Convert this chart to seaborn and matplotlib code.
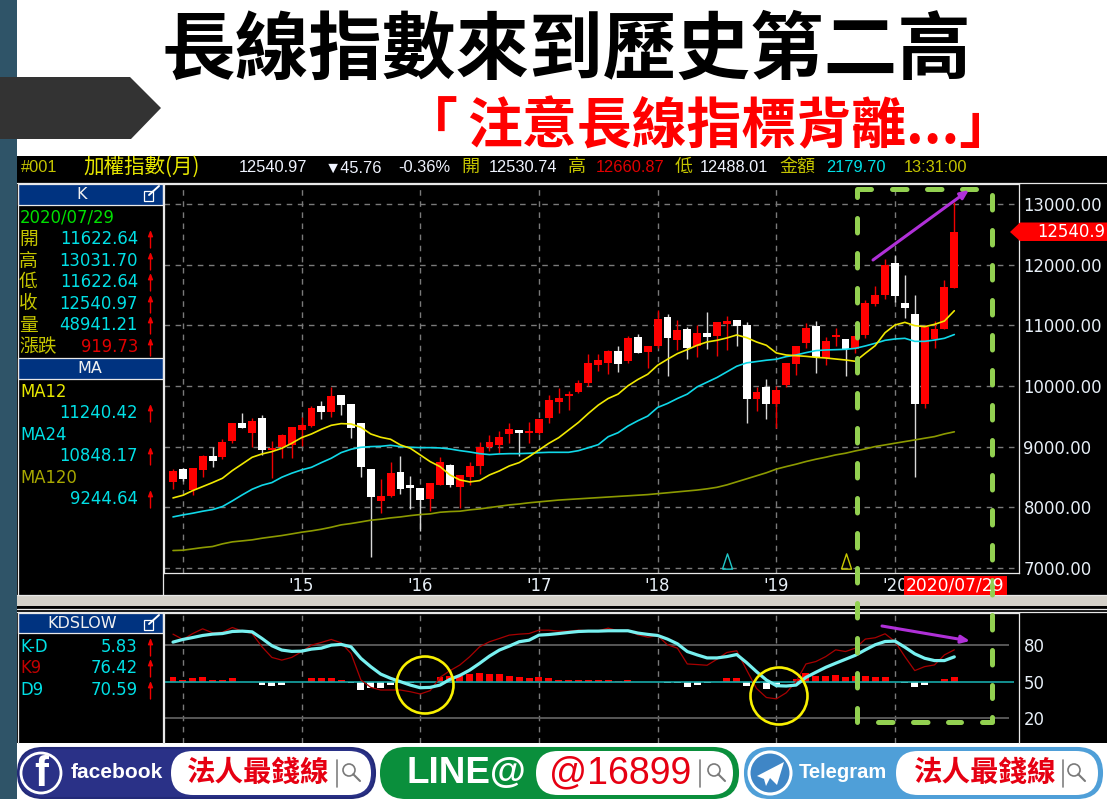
import numpy as np
import pandas as pd
import seaborn as sns
import matplotlib
matplotlib.use("Agg")
import matplotlib.pyplot as plt
from matplotlib.patches import FancyBboxPatch, Polygon, Rectangle, Circle

# ---------- data ----------
months = pd.period_range("2013-12", periods=80, freq="M")
opens = [8413,8627,8287,8617,8853,8836,9100,9385,9220,9473,8946,8990,9028,9275,9347,9676,9572,9852,9698,9385,
         8627,8100,8188,8584,8364,8315,8144,8369,8693,8342,8496,8682,8990,9028,9214,9274,9230,9230,9477,9740,
         9838,9899,10052,10342,10386,10584,10408,10808,10562,10655,11137,10764,10940,10655,10874,10830,11027,11093,11005,9783,
         9986,9696,10017,10369,10704,10995,10467,10813,10769,10605,10835,11346,11500,12027,11362,11181,9704,10769,10945,11622.64]
highs = [8627,8649,8649,8858,9001,9122,9385,9561,9467,9517,9089,9209,9319,9495,9671,9758,9984,9852,9698,9385,
         8627,8474,8743,8853,8523,8315,8408,8825,8715,8540,8748,9078,9187,9264,9383,9274,9405,9449,9849,9964,
         9915,10096,10523,10523,10600,10655,10830,10852,10655,11258,11181,11093,10973,11005,11225,11049,11159,11093,11049,9986,
         10123,10003,10385,10654,11044,11077,10802,10956,10769,10830,11417,11648,12098,12164,11829,11500,11000,11077,11747,13031.70]
lows = [8304,8430,8210,8507,8660,8792,9056,9303,8990,8869,8479,8814,8814,9012,9330,9462,9484,9528,9149,8507,
        7189,7903,8177,8216,7974,7617,7947,8369,8342,7996,8375,8551,8924,8902,9055,8852,9055,9208,9383,9548,
        9603,9877,10003,10255,10205,10233,10386,10540,10299,10633,10167,10600,10452,10479,10605,10496,10589,10655,9394,9592,
        9460,9301,9979,10187,10621,10220,10347,10660,10171,10539,10797,11324,11439,11384,11126,8508,9639,10632,10945,11622.64]
closes = [8606,8463,8649,8847,8770,9078,9385,9303,9429,8946,8984,9187,9319,9363,9632,9566,9835,9682,9303,8660,
          8166,8188,8562,8304,8326,8122,8408,8743,8364,8540,8682,8990,9078,9155,9296,9230,9252,9449,9762,9805,
          9871,10052,10386,10430,10584,10364,10786,10540,10655,11099,10786,10918,10633,10874,10808,11049,11071,10989,9789,9899,
          9696,9942,10385,10654,10962,10478,10742,10841,10605,10830,11362,11494,11988,11483,11280,9704,10978,10940,11626,12540.97]
ma12 = [8155,8199,8276,8342,8408,8479,8606,8715,8825,8880,8918,8973,9056,9149,9209,9286,9352,9380,9374,9319,
        9209,9155,9122,9028,8973,8864,8754,8671,8534,8452,8419,8441,8534,8600,8682,8737,8835,8945,9055,9148,
        9274,9400,9548,9685,9794,9866,10003,10107,10194,10342,10441,10534,10600,10671,10726,10753,10792,10841,10797,10726,
        10671,10545,10511,10500,10489,10473,10462,10445,10429,10407,10539,10665,10879,11005,11049,10995,10978,11016,11071,11240.42]
ma24 = [7842,7875,7903,7936,7963,8013,8106,8205,8298,8364,8408,8496,8562,8617,8660,8737,8809,8902,8957,8990,
        9001,9006,9023,9001,8990,8984,8984,8979,8962,8935,8913,8885,8869,8880,8885,8885,8891,8901,8907,8907,
        8907,8934,8983,9033,9164,9230,9340,9427,9504,9646,9712,9794,9866,9986,10063,10140,10233,10326,10381,10403,
        10425,10441,10484,10511,10550,10583,10594,10599,10605,10621,10660,10704,10753,10775,10786,10736,10736,10758,10786,10848.17]
ma120 = [7288,7293,7315,7337,7354,7398,7431,7447,7464,7491,7513,7535,7562,7590,7612,7639,7672,7711,7733,7760,
         7788,7804,7826,7842,7864,7881,7892,7919,7930,7936,7958,7974,7996,8018,8040,8055,8075,8090,8105,8120,
         8130,8140,8150,8160,8170,8180,8190,8200,8210,8225,8240,8255,8270,8285,8305,8330,8370,8420,8470,8520,
         8570,8630,8672,8711,8755,8793,8826,8864,8892,8930,8963,9002,9029,9057,9084,9111,9139,9166,9210,9244.64]
k9 = [89.4,85.0,89.9,93.8,90.5,91.0,94.9,91.9,89.9,78.9,70.1,67.9,70.1,74.8,80.3,82.5,85.0,82.2,73.4,51.4,
      45.3,43.1,43.1,43.1,41.7,39.8,42.6,53.6,59.1,63.8,70.7,78.9,83.1,85.8,88.6,89.4,89.9,92.7,92.7,91.9,
      91.9,92.7,92.1,92.1,94.4,92.2,92.2,88.9,86.9,88.1,80.6,77.8,64.7,64.2,63.6,68.6,74.2,75.6,59.7,44.4,
      36.9,35.8,40.8,50.0,64.7,66.7,70.8,76.4,75.0,77.8,85.3,86.4,89.7,83.3,70.8,59.2,62.5,63.9,72.2,76.42]
d9 = [82.8,85.0,86.6,88.3,89.4,89.9,91.6,91.9,91.3,85.8,79.8,76.2,75.1,75.3,77.0,77.8,80.3,80.9,78.9,69.3,
      62.4,56.3,52.8,50.0,47.2,45.0,45.3,47.2,51.9,55.2,59.6,65.2,71.2,76.2,79.5,83.1,84.4,88.6,89.1,89.9,
      90.8,91.6,91.9,91.9,92.2,92.2,92.2,90.3,89.2,88.3,85.3,81.4,75.0,72.2,69.7,69.7,70.8,72.5,65.8,58.3,
      51.4,46.7,46.4,47.2,53.6,57.8,61.9,65.3,68.6,71.9,76.4,80.6,83.3,83.6,78.6,73.1,69.4,67.5,67.5,70.59]
kd_diff = [5.8,2.1,4.2,5.8,2.1,2.1,4.2,0.2,0.2,-4.2,-5.8,-3.8,-0.8,0.2,4.2,4.2,4.2,2.1,-2.1,-10.8,
           -8.3,-7.5,-3.8,-2.1,-1.3,-0.8,-0.2,5.8,7.5,7.5,9.2,10.8,9.2,9.2,7.5,5.8,4.2,5.8,4.2,2.1,
           2.1,2.1,2.1,2.1,2.1,0.4,2.1,-0.8,-0.8,0.2,-2.1,-2.1,-7.1,-3.8,-2.1,0.2,4.2,4.2,-5.4,-2.1,
           -8.8,-3.8,-0.8,3.8,10.4,7.1,7.1,8.8,5.4,7.1,7.1,5.4,5.4,0.2,-2.1,-7.1,-3.8,-0.4,3.8,5.83]
price_ticks = [7000,8000,9000,10000,11000,12000,13000]
kd_ticks = [20,50,80]
signal_points = [("2018-08", 7115, "#20c8c8"), ("2019-08", 7115, "#c8c800")]

kline_rows = [("開","11622.64"),("高","13031.70"),("低","11622.64"),("收","12540.97"),("量","48941.21"),("漲跌","919.73")]
ma_rows = [("MA12","11240.42"),("MA24","10848.17"),("MA120","9244.64")]
kd_rows = [("K-D","5.83"),("K9","76.42"),("D9","70.59")]

# ---------- setup ----------
sns.set_style("dark")
plt.rcParams["font.family"] = ["DejaVu Sans", "Noto Sans CJK TC"]
W, H = 1107, 799
CJK = ["Noto Sans CJK TC", "DejaVu Sans"]
OLIVE, CYAN, RED = "#c4c400", "#00e0e6", "#ff0000"
idx = np.arange(len(opens))
fig = plt.figure(figsize=(W/100, H/100), dpi=100, facecolor="white")

def axes_px(l, t, r, b, **kw):
    return fig.add_axes([l/W, 1-b/H, (r-l)/W, (b-t)/H], **kw)

def sheet(z):
    a = fig.add_axes([0, 0, 1, 1], zorder=z)
    a.set_xlim(0, W); a.set_ylim(H, 0); a.axis("off"); a.patch.set_alpha(0)
    return a

bg = sheet(0)
ov = sheet(10)

# ---------- background ----------
bg.add_patch(Rectangle((0, 0), 17, H, color="#2f5468", lw=0))
bg.add_patch(Rectangle((17, 156), W-17, 587, color="black", lw=0))
bg.add_patch(Rectangle((17, 596), W-17, 9.5, color="#d4d0c8", lw=0))
for y in (182.5, 595, 608.5, 612):
    bg.plot([17, W], [y, y], color="#e8e8e8", lw=0.9)
bg.add_patch(Polygon([(0, 77), (130, 77), (161, 108), (131, 139), (0, 139)], color="#333333", lw=0))

# title
ov.text(566, 52, "長線指數來到歷史第二高", ha="center", va="center", fontsize=53,
        family=CJK, fontweight="bold", color="black")
ov.text(403, 127, "「", ha="left", va="center", fontsize=39.5, family=CJK, fontweight="bold", color="#ff0000")
ov.text(467, 127, "注意長線指標背離...」", ha="left", va="center", fontsize=39.5,
        family=CJK, fontweight="bold", color="#ff0000")

# header strip
HF = ["Liberation Sans", "DejaVu Sans", "Noto Sans CJK TC"]
header = [(21, "#001", OLIVE), (239, "12540.97", "#f0f4ff"), (325, "▼45.76", "#f0f4ff"), (398, "-0.36%", "#f0f4ff"),
          (489, "12530.74", "#f0f4ff"), (596, "12660.87", "#e00000"), (700, "12488.01", "#f0f4ff"),
          (826, "2179.70", CYAN), (904, "13:31:00", OLIVE)]
for x, s, c in header:
    bg.text(x, 168, s, color=c, fontsize=11.8, family=HF, va="center", ha="left")
for x, s, c in [(83, "加權指數(月)", "#e8e800"), (461, "開", OLIVE), (568, "高", OLIVE), (675, "低", OLIVE), (779, "金額", OLIVE)]:
    bg.text(x, 167, s, color=c, fontsize=14.8 if len(s) > 3 else 13, family=CJK, va="center", ha="left")

# left panels
def blue_bar(top, bottom, label, icon=False):
    bg.add_patch(Rectangle((18, top), 145, bottom-top, facecolor="#003380", edgecolor="#e8e8e8", lw=0.9))
    bg.text(82 if icon else 90, (top+bottom)/2, label, color="#f0f0f0", fontsize=11.5, ha="center", va="center")
    if icon:
        bg.add_patch(Rectangle((144, top+7), 9, 10, facecolor="none", edgecolor="white", lw=0.9))
        bg.plot([149, 159], [top+11, top+2], color="white", lw=1.4)

def up_arrow(y):
    bg.annotate("", xy=(150.5, y-9), xytext=(150.5, y+9),
                arrowprops=dict(arrowstyle="-|>,head_width=0.14,head_length=0.35", color="#f00000", lw=1.0, shrinkA=0, shrinkB=0))

blue_bar(184, 204.5, "K", icon=True)
bg.text(20, 217, "2020/07/29", color="#00e000", fontsize=11.9, va="center", ha="left")
for y, (lab, val) in zip([239, 261, 282, 304, 325, 347], kline_rows):
    bg.text(19, y, lab, color=OLIVE, fontsize=13.5, family=CJK, va="center", ha="left")
    bg.text(138, y, val, color="#e00000" if lab == "漲跌" else CYAN, fontsize=11.9, va="center", ha="right")
    up_arrow(y)
blue_bar(358, 378.5, "MA")
for (y1, y2), (lab, val), c in zip([(392, 413), (435, 456), (478, 499)], ma_rows, ["#e8e800", CYAN, "#a8a800"]):
    bg.text(20, y1, lab, color=c, fontsize=11.9, va="center", ha="left")
    bg.text(138, y2, val, color=CYAN, fontsize=11.9, va="center", ha="right")
    up_arrow(y2)
blue_bar(613, 633, "KDSLOW", icon=True)
for y, (lab, val), c in zip([647, 668, 690], kd_rows, [CYAN, "#c00000", CYAN]):
    bg.text(20, y, lab, color=c, fontsize=11.9, va="center", ha="left")
    bg.text(138, y, val, color=CYAN, fontsize=11.9, va="center", ha="right")
    up_arrow(y)
for x in (18, 163):
    bg.plot([x, x], [183, 595], color="#e8e8e8", lw=0.9)
    bg.plot([x, x], [612, 743], color="#e8e8e8", lw=0.9)

# ---------- price pane ----------
XL = ((164-173)/9.89, (1019-173)/9.89)
jan = [i for i, m in enumerate(months) if m.month == 1]
ax = axes_px(164, 184, 1019, 573, zorder=2)
ax.set_facecolor("black")
ax.grid(False)
for y in price_ticks:
    ax.axhline(y, color="#7a7a7a", lw=1.0, ls=(0, (4, 4)), zorder=1)
for i in jan:
    ax.axvline(i, color="#7a7a7a", lw=1.0, ls=(0, (4, 4)), zorder=1)
up = np.array(closes) >= np.array(opens)
ccol = np.where(up, "#ff0000", "#ffffff")
wcol = np.where(up, "#f00000", "#d8d8d8")
ax.vlines(idx, lows, highs, colors=wcol, lw=1.0, zorder=3)
ax.bar(idx, np.abs(np.array(closes)-np.array(opens)), bottom=np.minimum(opens, closes), width=0.8, color=ccol, lw=0, zorder=4)
for series, col in [(ma120, "#8c9a00"), (ma24, "#10d8e8"), (ma12, "#f0e800")]:
    sns.lineplot(x=idx, y=series, ax=ax, color=col, lw=1.2, errorbar=None, legend=False, zorder=5)
TRI = [(-0.33, -0.5), (0.33, -0.5), (0, 0.5), (-0.33, -0.5)]
for month, val, col in signal_points:
    ax.plot([months.get_loc(pd.Period(month, "M"))], [val], marker=TRI, ms=11, mfc="none", mec=col, mew=1.0,
            ls="none", zorder=5)
ax.set(xlabel="", ylabel="")
ax.set_xlim(*XL)
ax.set_ylim(7000-5/60.67*1000, 13000+20/60.67*1000)
ax.yaxis.tick_right()
ax.set_yticks(price_ticks)
ax.set_yticklabels([f"{v:.2f}" for v in price_ticks], color="#e8f0f8", fontsize=11.9)
ax.set_xticks(jan)
ax.set_xticklabels([f"'{str(months[i].year)[2:]}" if months[i].year >= 2015 else "" for i in jan],
                   color="#e8f0f8", fontsize=11.9)
ax.tick_params(axis="both", length=0, pad=3.2)
for s in ax.spines.values():
    s.set_visible(True); s.set_color("#e8e8e8"); s.set_linewidth(0.9)

# ---------- KD pane ----------
PX_KD, PX_BAR = 1.207, 0.8
ax_h = axes_px(164, 613, 1019, 743, zorder=2)
ax_h.set_facecolor("black"); ax_h.grid(False)
for i in jan:
    ax_h.axvline(i, color="#7a7a7a", lw=1.0, ls=(0, (4, 4)), zorder=0)
df = pd.DataFrame({"x": idx, "diff": kd_diff})
df["sign"] = np.where(df["diff"] >= 0, "up", "down")
sns.barplot(data=df, x="x", y="diff", hue="sign", palette={"up": "#ff0000", "down": "#ffffff"}, native_scale=True,
            width=0.7, dodge=False, legend=False, saturation=1, ax=ax_h, linewidth=0, zorder=2)
ax_h.set(xlabel="", ylabel="")
ax_h.set_xlim(*XL)
ax_h.set_ylim(-(743-681.7)/PX_BAR, (681.7-613)/PX_BAR)
ax_h.set_xticks([]); ax_h.set_yticks([])
for s in ax_h.spines.values():
    s.set_visible(False)

ax_k = axes_px(164, 613, 1019, 743, zorder=3)
ax_k.patch.set_alpha(0); ax_k.grid(False)
ax_k.hlines([20, 80], XL[0], 84.5, color="#5e5e5e", lw=1.3, zorder=1)
ax_k.hlines([50], XL[0], 85, color="#18a8a8", lw=1.2, zorder=2)
sns.lineplot(x=idx, y=k9, ax=ax_k, color="#a80000", lw=0.9, errorbar=None, legend=False, zorder=3)
sns.lineplot(x=idx, y=d9, ax=ax_k, color="#78f0f0", lw=2.3, errorbar=None, legend=False, zorder=4)
ax_k.set(xlabel="", ylabel="")
ax_k.set_xlim(*XL)
ax_k.set_ylim(50-(743-681.7)/PX_KD, 50+(681.7-613)/PX_KD)
ax_k.yaxis.tick_right()
ax_k.set_yticks(kd_ticks)
ax_k.set_yticklabels([str(v) for v in kd_ticks], color="#e8f0f8", fontsize=11.9)
ax_k.set_xticks([])
ax_k.tick_params(axis="y", length=0, pad=3.2)
for n, s in ax_k.spines.items():
    s.set_visible(n in ("left", "right", "top")); s.set_color("#e8e8e8"); s.set_linewidth(0.9)

# ---------- overlays ----------
# date flag and price tag
ov.add_patch(Rectangle((904, 576), 103, 18.5, color="#ff0000", lw=0))
ov.text(955.5, 585.5, "2020/07/29", color="white", fontsize=12.3, ha="center", va="center")
ov.add_patch(Polygon([(1010, 232), (1020, 222.5), (W, 222.5), (W, 241), (1020, 241)], color="#ff0000", lw=0))
ov.text(1105, 232, "12540.9", color="white", fontsize=11.9, ha="right", va="center")

# green dashed box
G = "#92d050"
dash = dict(color=G, lw=3.6, solid_capstyle="round", dash_capstyle="round", ls=(0, (2.9, 4.1)))
solid = dict(color=G, lw=3.6, solid_capstyle="round", solid_joinstyle="round")
ov.plot([857, 857, 871], [197, 189, 189], **solid)
ov.plot([992, 992, 982], [717, 722, 722], **solid)
ov.plot([857, 857], [217.5, 722], **dash)
ov.plot([891.5, 976], [189, 189], **dash)
ov.plot([992, 992], [194.5, 698], **dash)
ov.plot([877.5, 961], [722, 722], **dash)

# purple arrows
for (x0, y0), (x1, y1) in [((873, 260), (969, 190)), ((882, 626), (970, 641))]:
    ov.annotate("", xy=(x1, y1), xytext=(x0, y0),
                arrowprops=dict(arrowstyle="-|>,head_width=0.22,head_length=0.5", color="#b030d8", lw=2.2, shrinkA=0, shrinkB=0))

# yellow circles
for cx, cy in [(425, 685), (779, 696)]:
    ov.add_patch(Circle((cx, cy), 28.5, facecolor="none", edgecolor="#f8f000", lw=1.9))

# ---------- bottom banner ----------
def pill(x0, x1, y0, y1, fc, ec, lw=1.5):
    r = (y1-y0)/2
    bg.add_patch(FancyBboxPatch((x0+r, y0+r), x1-x0-2*r, 0, boxstyle=f"round,pad={r},rounding_size={r}",
                                facecolor=fc, edgecolor=ec, lw=lw, mutation_aspect=1))

def magnifier(x, y):
    bg.add_patch(Circle((x, y), 6, facecolor="none", edgecolor="#7a7a7a", lw=1.2))
    bg.plot([x+4.2, x+11], [y+4.2, y+11], color="#7a7a7a", lw=1.5)

LS = ["Liberation Sans"]
pill(18, 375, 748, 798, "#2a3187", "#232a78")
pill(171, 371, 751, 795, "white", "white", 0)
bg.add_patch(Circle((41, 773), 20, facecolor="#2a3187", edgecolor="white", lw=2))
bg.text(41, 775, "f", color="white", fontsize=30, fontweight="bold", ha="center", va="center", family=LS)
bg.text(117, 773, "facebook", color="white", fontsize=15, fontweight="bold", ha="center", va="center", family=LS)
bg.text(258, 773, "法人最錢線", color="#e60012", fontsize=20.5, family=CJK, fontweight="bold", ha="center", va="center")
bg.plot([337, 337], [760, 787], color="#808080", lw=1.2)
magnifier(349, 770)

pill(381, 738, 748, 798, "#0a8f3c", "#0a8f3c")
pill(536, 733, 751, 795, "white", "white", 0)
bg.text(466, 773, "LINE@", color="white", fontsize=26.5, fontweight="bold", ha="center", va="center", family=LS)
bg.text(620, 773, "@16899", color="#e60012", fontsize=27, ha="center", va="center", family=LS)
bg.plot([700, 700], [760, 787], color="#808080", lw=1.2)
magnifier(714, 770)

pill(745, 1102, 748, 798, "#4f9fd8", "#4f9fd8")
pill(896, 1098, 751, 795, "white", "white", 0)
bg.add_patch(Circle((770, 773), 21, facecolor="#3f86c6", edgecolor="white", lw=2.2))
bg.add_patch(Polygon([(757, 776), (784, 762), (777, 785), (770, 778), (766, 786), (764, 779)], color="white", lw=0))
bg.text(843, 773, "Telegram", color="white", fontsize=14.5, fontweight="bold", ha="center", va="center", family=LS)
bg.text(985, 773, "法人最錢線", color="#e60012", fontsize=20.5, family=CJK, fontweight="bold", ha="center", va="center")
bg.plot([1063, 1063], [760, 787], color="#808080", lw=1.2)
magnifier(1074, 770)

fig.savefig("out.png", dpi=100, facecolor="white")
